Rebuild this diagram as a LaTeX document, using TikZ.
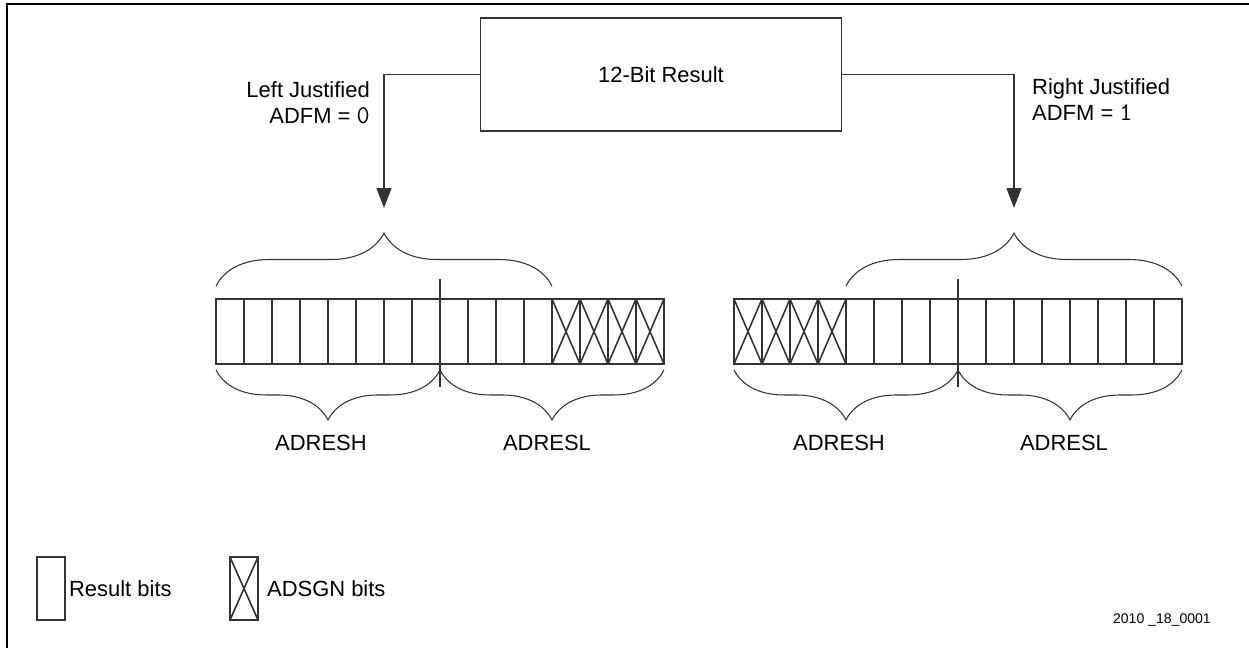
\documentclass[tikz,border=0pt]{standalone}
\usepackage{fontspec}
\setmainfont{Liberation Sans}
\usepackage{tikz}
\usetikzlibrary{arrows.meta, positioning, calc, decorations.pathreplacing}
\usepackage{xcolor}
\definecolor{Black80}{HTML}{333333}
\newcommand{\bitval}[1]{{\ttfamily\fontsize{14.5}{14.8}\selectfont #1}}

\begin{document}
\begin{tikzpicture}[
    x=0.02cm, y=-0.02cm,
    every node/.style={font=\fontsize{12.5}{14.8}\selectfont},
    resbox/.style={draw=Black80, line width=0.6pt, minimum width=7.24cm,
        minimum height=2.26cm, inner sep=0pt},
    bitcell/.style={draw=Black80, line width=0.6pt, minimum width=0.56cm,
        minimum height=1.3cm, inner sep=0pt, outer sep=0pt},
    signcell/.style={bitcell, path picture={
        \draw[line width=0.9pt] (path picture bounding box.north west) -- (path picture bounding box.south east)
              (path picture bounding box.north east) -- (path picture bounding box.south west);}},
    arr/.style={-{Triangle[length=0.4cm, width=0.3cm]}, line width=0.6pt, Black80},
    upbrace/.style={decorate, decoration={brace, amplitude=1.06cm}, line width=0.6pt, Black80},
    lowbrace/.style={decorate, decoration={brace, mirror, amplitude=1cm}, line width=0.6pt, Black80},
]
\useasboundingbox (0,0) rectangle (1249,648);

% === Frame ===
\draw[line width=1.1pt] (7,648) -- (7,4) -- (1249,4);

% =============================================
% RESULT BOX AND JUSTIFICATION ARROWS
% =============================================
\node[resbox] (res) at (661,74.5) {12-Bit Result};

\coordinate (ltip) at (384,208);
\coordinate (rtip) at (1014,208);

\draw[arr] (res.west) -| (ltip);
\draw[arr] (res.east) -| (rtip);

\node[anchor=east, align=right] (lnote) at (376,103)
    {Left Justified\\ADFM = \bitval{0}};
\node[anchor=west, align=left] (rnote) at (1026,100)
    {Right Justified\\ADFM = \bitval{1}};

% =============================================
% LEFT JUSTIFIED REGISTER
% =============================================
\foreach \i in {0,...,11}
    \node[bitcell] (l\i) at (230+28*\i, 331.5) {};
\foreach \i in {12,...,15}
    \node[signcell] (l\i) at (230+28*\i, 331.5) {};

\draw[upbrace] ([yshift=0.26cm]l0.north west) -- ([yshift=0.26cm]l11.north east);
\draw[line width=0.6pt, Black80] ([yshift=0.4cm]l7.north east) -- ([yshift=-0.46cm]l7.south east);
\draw[lowbrace] ([yshift=-0.12cm]l0.south west) -- ([yshift=-0.12cm]l7.south east);
\draw[lowbrace] ([yshift=-0.12cm]l8.south west) -- ([yshift=-0.12cm]l15.south east);

\node (lhigh) at (321,443) {ADRESH};
\node (llow) at (547,443) {ADRESL};

% =============================================
% RIGHT JUSTIFIED REGISTER
% =============================================
\foreach \i in {0,...,3}
    \node[signcell] (r\i) at (748+28*\i, 331.5) {};
\foreach \i in {4,...,15}
    \node[bitcell] (r\i) at (748+28*\i, 331.5) {};

\draw[upbrace] ([yshift=0.26cm]r4.north west) -- ([yshift=0.26cm]r15.north east);
\draw[line width=0.6pt, Black80] ([yshift=0.4cm]r7.north east) -- ([yshift=-0.46cm]r7.south east);
\draw[lowbrace] ([yshift=-0.12cm]r0.south west) -- ([yshift=-0.12cm]r7.south east);
\draw[lowbrace] ([yshift=-0.12cm]r8.south west) -- ([yshift=-0.12cm]r15.south east);

\node (rhigh) at (839,443) {ADRESH};
\node (rlow) at (1064,443) {ADRESL};

% =============================================
% LEGEND
% =============================================
\node[bitcell, minimum height=1.26cm] (kres) at (51,588.5) {};
\node[right=0.04cm of kres, inner sep=1pt] (kreslbl) {Result bits};
\node[signcell, minimum height=1.26cm] (ksign) at (244,588.5) {};
\node[right=0.14cm of ksign, inner sep=1pt] (ksignlbl) {ADSGN bits};

\node[anchor=east, font=\fontsize{8}{10}\selectfont] (docid) at (1217,620) {2010 \_18\_0001};

\end{tikzpicture}
\end{document}
